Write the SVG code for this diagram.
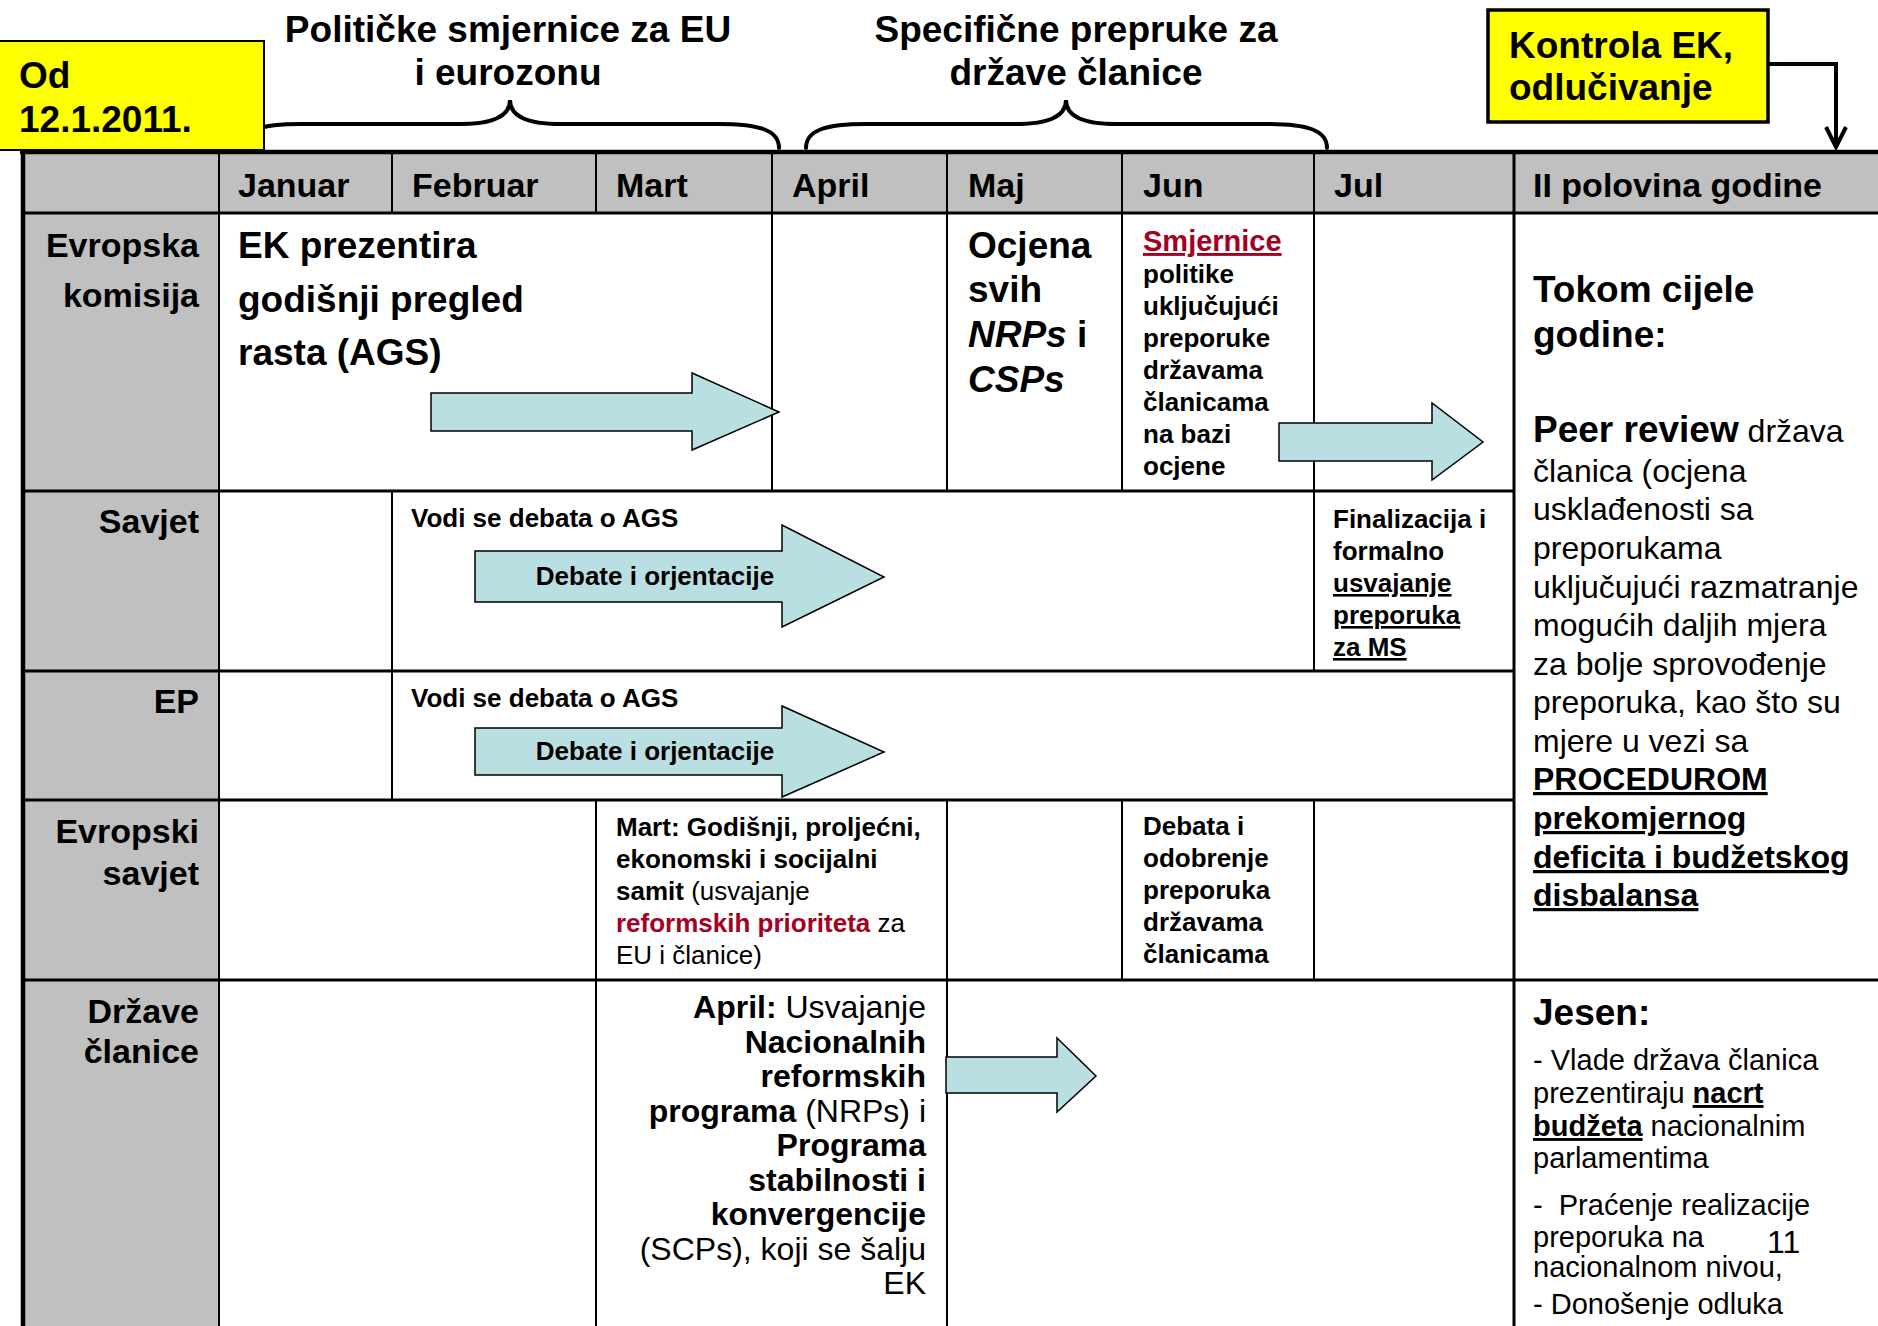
<svg xmlns="http://www.w3.org/2000/svg" width="1878" height="1326" viewBox="0 0 1878 1326">
<style>
text{font-family:"Liberation Sans",Arial,sans-serif;fill:#000}
.b{font-weight:bold}
.r{font-weight:normal}
.u{text-decoration:underline}
.i{font-style:italic}
.red{fill:#A50021}
.f37{font-size:37px}
.f34{font-size:34px}
.f32{font-size:32px}
.f29{font-size:29px}
.f26{font-size:26px}
.end{text-anchor:end}
.mid{text-anchor:middle}
.gray{fill:#C0C0C0}
.grid{stroke:#000;stroke-width:2;fill:none}
.hl{stroke:#000;stroke-width:3;fill:none}
.thick{stroke:#000;stroke-width:4.5;fill:none}
.blk{fill:#B9DFE2;stroke:#000;stroke-width:1.5;stroke-linejoin:miter}
.brace{fill:none;stroke:#000;stroke-width:4;stroke-linecap:round}
.note{fill:#FFFF00;stroke:#000}
.pre{white-space:pre}
</style>
<defs>
<marker id="vArrow" viewBox="0 0 12 12" refX="11" refY="6" markerWidth="28" markerHeight="24" markerUnits="userSpaceOnUse" orient="auto">
<path d="M1,1 L11,6 L1,11" fill="none" stroke="#000" stroke-width="2"/>
</marker>
</defs>
<rect width="1878" height="1326" fill="#fff"/>

<g id="table-grid">
<rect class="gray" x="24" y="152" width="1854" height="61"/>
<rect class="gray" x="24" y="213" width="195" height="1113"/>
<line class="grid" x1="219" y1="152" x2="219" y2="1326"/>
<line class="grid" x1="392" y1="152" x2="392" y2="213"/>
<line class="grid" x1="392" y1="491" x2="392" y2="800"/>
<line class="grid" x1="596" y1="152" x2="596" y2="213"/>
<line class="grid" x1="596" y1="800" x2="596" y2="1326"/>
<line class="grid" x1="772" y1="152" x2="772" y2="491"/>
<line class="grid" x1="947" y1="152" x2="947" y2="491"/>
<line class="grid" x1="947" y1="800" x2="947" y2="1326"/>
<line class="grid" x1="1122" y1="152" x2="1122" y2="491"/>
<line class="grid" x1="1122" y1="800" x2="1122" y2="980"/>
<line class="grid" x1="1314" y1="152" x2="1314" y2="671"/>
<line class="grid" x1="1314" y1="800" x2="1314" y2="980"/>
<line class="hl" x1="1514" y1="152" x2="1514" y2="1326"/>
<line class="hl" x1="23" y1="213" x2="1878" y2="213"/>
<line class="hl" x1="23" y1="491" x2="1514" y2="491"/>
<line class="hl" x1="23" y1="671" x2="1514" y2="671"/>
<line class="hl" x1="23" y1="800" x2="1514" y2="800"/>
<line class="hl" x1="23" y1="980" x2="1878" y2="980"/>
<line class="thick" x1="20" y1="152" x2="1878" y2="152"/>
<line class="thick" x1="23" y1="150" x2="23" y2="1326"/>
</g>

<g id="connectors">
<path id="brace-eu" class="brace" d="M241,148 C241,130 261,124 301,124 L460,124 C490,124 510,118 510,100 C510,118 530,124 560,124 L719,124 C759,124 779,130 779,148"/>
<path id="brace-ms" class="brace" d="M806,148 C806,130 826,124 866,124 L1016,124 C1046,124 1066,118 1066,100 C1066,118 1086,124 1116,124 L1267,124 C1307,124 1327,130 1327,148"/>
<path id="link-kontrola" d="M1768,64 H1836 V147" fill="none" stroke="#000" stroke-width="4" marker-end="url(#vArrow)"/>
<polygon id="arrow-ek" class="blk" points="431,393 692,393 692,373 779,412 692,450 692,431 431,431"/>
<polygon id="arrow-jun" class="blk" points="1279,423 1432,423 1432,403 1483,442 1432,480 1432,461 1279,461"/>
<polygon id="arrow-savjet" class="blk" points="475,551 782,551 782,525 884,577 782,627 782,602 475,602"/>
<polygon id="arrow-ep" class="blk" points="475,728 782,728 782,706 884,752 782,797 782,775 475,775"/>
<polygon id="arrow-ms" class="blk" points="946,1057 1057,1057 1057,1038 1096,1076 1057,1112 1057,1093 946,1093"/>
</g>

<g id="title-eu">
<text class="b f37 mid" x="508" y="42">Političke smjernice za EU</text>
<text class="b f37 mid" x="508" y="85">i eurozonu</text>
</g>
<g id="title-ms">
<text class="b f37 mid" x="1076" y="42">Specifične prepruke za</text>
<text class="b f37 mid" x="1076" y="85">države članice</text>
</g>

<g id="note-od">
<rect class="note" x="-2" y="41" width="266" height="109" stroke-width="2"/>
<text class="b f37" x="19" y="88">Od</text>
<text class="b f37" x="19" y="132">12.1.2011.</text>
</g>
<g id="note-kontrola">
<rect class="note" x="1488" y="10" width="280" height="112" stroke-width="3.5"/>
<text class="b f37" x="1509" y="58">Kontrola EK,</text>
<text class="b f37" x="1509" y="100">odlučivanje</text>
</g>

<g id="header">
<text class="b f34" x="238" y="197">Januar</text>
<text class="b f34" x="412" y="197">Februar</text>
<text class="b f34" x="616" y="197">Mart</text>
<text class="b f34" x="792" y="197">April</text>
<text class="b f34" x="968" y="197">Maj</text>
<text class="b f34" x="1143" y="197">Jun</text>
<text class="b f34" x="1334" y="197">Jul</text>
<text class="b f34" x="1533" y="197">II polovina godine</text>
</g>

<g id="row-labels">
<text class="b f34 end" x="199" y="257">Evropska</text>
<text class="b f34 end" x="199" y="307">komisija</text>
<text class="b f34 end" x="199" y="533">Savjet</text>
<text class="b f34 end" x="199" y="713">EP</text>
<text class="b f34 end" x="199" y="843">Evropski</text>
<text class="b f34 end" x="199" y="885">savjet</text>
<text class="b f34 end" x="199" y="1023">Države</text>
<text class="b f34 end" x="199" y="1063">članice</text>
</g>

<g id="cell-ek-ags">
<text class="b f37" x="238" y="258">EK prezentira</text>
<text class="b f37" x="238" y="312">godišnji pregled</text>
<text class="b f37" x="238" y="365">rasta (AGS)</text>
</g>

<g id="cell-ek-maj">
<text class="b f37" x="968" y="258">Ocjena</text>
<text class="b f37" x="968" y="302">svih</text>
<text class="b f37" x="968" y="347"><tspan class="i">NRPs</tspan> i</text>
<text class="b f37 i" x="968" y="392">CSPs</text>
</g>

<g id="cell-ek-jun">
<text class="b red u" x="1143" y="251" font-size="29">Smjernice</text>
<text class="b f26" x="1143" y="283">politike</text>
<text class="b f26" x="1143" y="315">uključujući</text>
<text class="b f26" x="1143" y="347">preporuke</text>
<text class="b f26" x="1143" y="379">državama</text>
<text class="b f26" x="1143" y="411">članicama</text>
<text class="b f26" x="1143" y="443">na bazi</text>
<text class="b f26" x="1143" y="475">ocjene</text>
</g>

<g id="cell-second-half">
<text class="b f37" x="1533" y="302">Tokom cijele</text>
<text class="b f37" x="1533" y="347">godine:</text>
<text class="f32" x="1533" y="442"><tspan class="b f37">Peer review</tspan> država</text>
<text class="f32" x="1533" y="482">članica (ocjena</text>
<text class="f32" x="1533" y="520">usklađenosti sa</text>
<text class="f32" x="1533" y="559">preporukama</text>
<text class="f32" x="1533" y="598">uključujući razmatranje</text>
<text class="f32" x="1533" y="636">mogućih daljih mjera</text>
<text class="f32" x="1533" y="675">za bolje sprovođenje</text>
<text class="f32" x="1533" y="713">preporuka, kao što su</text>
<text class="f32" x="1533" y="752">mjere u vezi sa</text>
<text class="f32 b u" x="1533" y="790">PROCEDUROM</text>
<text class="f32 b u" x="1533" y="829">prekomjernog</text>
<text class="f32 b u" x="1533" y="868">deficita i budžetskog</text>
<text class="f32 b u" x="1533" y="906">disbalansa</text>
</g>

<g id="cell-savjet-debata">
<text class="b f26" x="411" y="527">Vodi se debata o AGS</text>
<text class="b f26 mid" x="655" y="585">Debate i orjentacije</text>
</g>

<g id="cell-savjet-jul">
<text class="b f26" x="1333" y="528">Finalizacija i</text>
<text class="b f26" x="1333" y="560">formalno</text>
<text class="b f26 u" x="1333" y="592">usvajanje</text>
<text class="b f26 u" x="1333" y="624">preporuka</text>
<text class="b f26 u" x="1333" y="656">za MS</text>
</g>

<g id="cell-ep-debata">
<text class="b f26" x="411" y="707">Vodi se debata o AGS</text>
<text class="b f26 mid" x="655" y="760">Debate i orjentacije</text>
</g>

<g id="cell-es-mart">
<text class="b f26" x="616" y="836">Mart: Godišnji, proljećni,</text>
<text class="b f26" x="616" y="868">ekonomski i socijalni</text>
<text class="f26" x="616" y="900"><tspan class="b">samit</tspan> (usvajanje</text>
<text class="f26" x="616" y="932"><tspan class="b red">reformskih prioriteta</tspan> za</text>
<text class="f26" x="616" y="964">EU i članice)</text>
</g>

<g id="cell-es-jun">
<text class="b f26" x="1143" y="835">Debata i</text>
<text class="b f26" x="1143" y="867">odobrenje</text>
<text class="b f26" x="1143" y="899">preporuka</text>
<text class="b f26" x="1143" y="931">državama</text>
<text class="b f26" x="1143" y="963">članicama</text>
</g>

<g id="cell-ms-april">
<text class="f32 end" x="926" y="1018"><tspan class="b">April:</tspan> Usvajanje</text>
<text class="f32 b end" x="926" y="1053">Nacionalnih</text>
<text class="f32 b end" x="926" y="1087">reformskih</text>
<text class="f32 end" x="926" y="1122"><tspan class="b">programa</tspan> (NRPs) i</text>
<text class="f32 b end" x="926" y="1156">Programa</text>
<text class="f32 b end" x="926" y="1191">stabilnosti i</text>
<text class="f32 b end" x="926" y="1225">konvergencije</text>
<text class="f32 end" x="926" y="1260">(SCPs), koji se šalju</text>
<text class="f32 end" x="926" y="1294">EK</text>
</g>

<g id="cell-ms-jesen">
<text class="b f37" x="1533" y="1025">Jesen:</text>
<text class="f29" x="1533" y="1070">- Vlade država članica</text>
<text class="f29" x="1533" y="1103">prezentiraju <tspan class="b u">nacrt</tspan></text>
<text class="f29" x="1533" y="1136"><tspan class="b u">budžeta</tspan> nacionalnim</text>
<text class="f29" x="1533" y="1168">parlamentima</text>
<text class="f29 pre" x="1533" y="1215">-  Praćenje realizacije</text>
<text class="f29" x="1533" y="1247">preporuka na</text>
<text class="f29" x="1533" y="1277">nacionalnom nivou,</text>
<text class="f29" x="1533" y="1314">- Donošenje odluka</text>
</g>

<g id="page-number">
<text class="f32" x="1767" y="1253">11</text>
</g>
</svg>
